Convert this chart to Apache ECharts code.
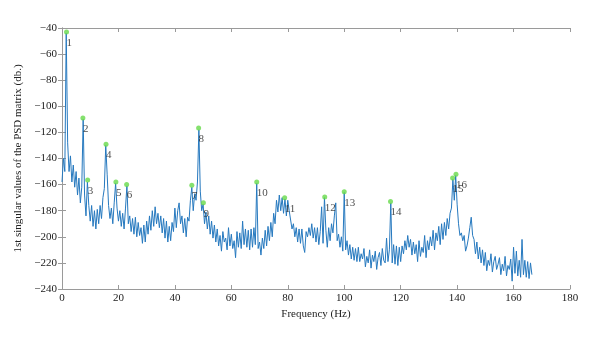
<!DOCTYPE html>
<html><head><meta charset="utf-8">
<script src="https://cdn.jsdelivr.net/npm/echarts@6/dist/echarts.min.js"></script>
<style>html,body{margin:0;padding:0;background:#fff}#c{width:600px;height:339px}</style>
</head><body><div id="c"></div>
<script>
// Spectrum sampled on a 0.5 Hz grid starting at 0 Hz
const freqStart = 0, freqStep = 0.5;
const psd = [
-158,-140,-150,-44,-128,-150,-138,-158,-145,-162,
-150,-168,-155,-174,-162,-110,-168,-184,-158,-176,
-188,-176,-192,-180,-194,-179,-190,-176,-186,-170,
-163,-130,-152,-176,-186,-178,-190,-174,-159,-178,
-188,-180,-192,-182,-194,-178,-161,-190,-184,-196,
-186,-198,-185,-200,-189,-199,-193,-205,-191,-204,
-188,-198,-184,-195,-180,-192,-177,-190,-182,-193,
-184,-197,-186,-201,-188,-204,-192,-203,-189,-196,
-178,-193,-180,-174,-190,-184,-197,-186,-200,-185,
-188,-172,-162,-180,-167,-172,-158,-118,-165,-180,
-175,-190,-181,-194,-184,-198,-188,-201,-191,-204,
-194,-207,-199,-211,-196,-204,-201,-210,-193,-207,
-198,-209,-203,-216,-196,-208,-197,-209,-188,-206,
-194,-208,-195,-210,-194,-208,-193,-206,-159,-209,
-204,-214,-201,-209,-195,-207,-192,-203,-189,-200,
-182,-190,-172,-181,-168,-180,-170,-182,-171,-184,
-172,-180,-181,-194,-190,-200,-193,-204,-194,-205,
-194,-207,-212,-196,-200,-193,-199,-190,-201,-193,
-204,-193,-206,-196,-177,-205,-170,-195,-208,-193,
-203,-190,-197,-184,-174,-203,-198,-208,-200,-211,
-166,-210,-203,-214,-206,-217,-208,-218,-209,-219,
-208,-219,-213,-217,-209,-223,-215,-220,-210,-224,
-214,-219,-211,-225,-216,-212,-222,-209,-218,-220,
-201,-219,-210,-174,-220,-206,-221,-207,-222,-208,
-219,-207,-213,-203,-210,-199,-208,-202,-214,-204,
-213,-206,-219,-203,-215,-208,-212,-199,-216,-203,
-210,-200,-207,-195,-210,-197,-203,-192,-206,-190,
-202,-189,-199,-186,-194,-182,-178,-156,-172,-153,
-175,-190,-199,-197,-203,-199,-211,-207,-201,-193,
-185,-199,-202,-213,-204,-217,-208,-220,-210,-222,
-212,-226,-218,-222,-213,-227,-219,-215,-225,-221,
-216,-229,-221,-226,-215,-230,-222,-225,-217,-234,
-208,-228,-211,-230,-218,-231,-202,-229,-218,-231,
-219,-232,-220,-229
];
const peakFreq = [1.6, 7.4, 9.1, 15.6, 19.1, 22.9, 46.0, 48.4, 50.1, 69.0, 78.9, 93.1, 100.0, 116.4, 138.4, 139.6];
const peakVal  = [-43, -109, -156.5, -129, -158, -160, -160.5, -116.6, -174, -158, -170, -169.5, -165.5, -173, -155, -152];
const peakLabels = ['1','2','3','4','5','6','7','8','9','10','11','12','13','14','15','16'];

const xMin = 0, xMax = 180, xInterval = 20;
const yMin = -240, yMax = -40, yInterval = 20;

const serif = 'Liberation Serif, Times New Roman, serif';
const axisCol = '#9a9a9a';
const chart = echarts.init(document.getElementById('c'), null, {renderer: 'canvas'});
const lineData = psd.map((v, i) => [freqStart + i * freqStep, v]);
const peakData = peakFreq.map((f, i) => [f, peakVal[i]]);
const minus = v => String(v).replace('-', '\u2212');

chart.setOption({
  animation: false,
  backgroundColor: '#fff',
  grid: {left: 62, right: 30, top: 28, bottom: 50},
  xAxis: [{
    type: 'value', min: xMin, max: xMax, interval: xInterval, position: 'bottom',
    axisLine: {show: true, lineStyle: {color: axisCol, width: 1}},
    axisTick: {show: true, inside: true, length: 4, lineStyle: {color: axisCol}},
    axisLabel: {color: '#222', fontFamily: serif, fontSize: 11, margin: 4, formatter: minus},
    splitLine: {show: false},
    name: 'Frequency (Hz)', nameLocation: 'middle', nameGap: 17,
    nameTextStyle: {color: '#222', fontFamily: serif, fontSize: 11}
  }, {
    type: 'value', min: xMin, max: xMax, interval: xInterval, position: 'top',
    axisLine: {show: true, lineStyle: {color: axisCol, width: 1}},
    axisTick: {show: true, inside: true, length: 4, lineStyle: {color: axisCol}},
    axisLabel: {show: false}, splitLine: {show: false}
  }],
  yAxis: [{
    type: 'value', min: yMin, max: yMax, interval: yInterval, position: 'left',
    axisLine: {show: true, lineStyle: {color: axisCol, width: 1}},
    axisTick: {show: true, inside: true, length: 4, lineStyle: {color: axisCol}},
    axisLabel: {color: '#222', fontFamily: serif, fontSize: 11, margin: 5, formatter: minus},
    splitLine: {show: false},
    name: '1st singular values of the PSD matrix (db.)', nameLocation: 'middle', nameGap: 29,
    nameTextStyle: {color: '#222', fontFamily: serif, fontSize: 11}
  }, {
    type: 'value', min: yMin, max: yMax, interval: yInterval, position: 'right',
    axisLine: {show: true, lineStyle: {color: axisCol, width: 1}},
    axisTick: {show: true, inside: true, length: 4, lineStyle: {color: axisCol}},
    axisLabel: {show: false}, splitLine: {show: false}
  }],
  series: [{
    type: 'line', xAxisIndex: 0, yAxisIndex: 0, data: lineData,
    showSymbol: false, symbol: 'none', sampling: null,
    lineStyle: {color: '#2679bf', width: 1}, z: 2
  }, {
    type: 'scatter', xAxisIndex: 0, yAxisIndex: 0, data: peakData,
    symbol: 'circle', symbolSize: 5,
    itemStyle: {color: '#66d94a'}, z: 3,
    label: {
      show: true, position: [2.5, 8], align: 'left', verticalAlign: 'top',
      formatter: p => peakLabels[p.dataIndex],
      color: '#222', fontFamily: serif, fontSize: 11
    }
  }]
});
</script>
</body></html>
